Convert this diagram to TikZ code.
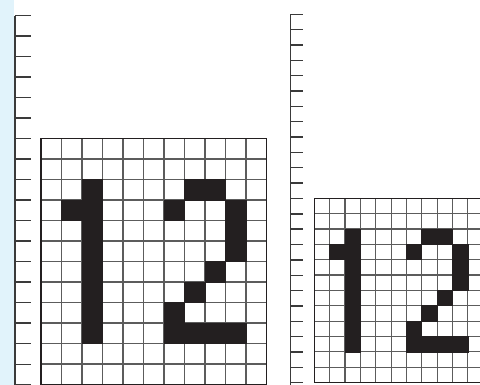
\documentclass[tikz,border=0pt]{standalone}
\definecolor{strip}{HTML}{E1F3FB}
\definecolor{ink}{HTML}{231F20}
\definecolor{gridc}{HTML}{5C5C5C}
\definecolor{rulec}{HTML}{3A3A3A}
\tikzset{
  gridline/.style={draw=gridc, line width=1.1pt},
  gridborder/.style={draw=ink, line width=1.4pt},
  rulerline/.style={draw=rulec, line width=1.4pt},
  rulertick/.style={draw=rulec, line width=1.4pt},
  cellfill/.style={fill=ink, draw=ink, line width=0.6pt}
}
\newcommand{\twelvegrid}{%
  \foreach \c in {1,...,10} {\draw[gridline] (\c,0) -- (\c,12);}
  \foreach \r in {1,...,11} {\draw[gridline] (0,\r) -- (11,\r);}
  \foreach \c/\r in {2/2,2/3,2/4,2/5,2/6,2/7,2/8,2/9,1/3,
                     7/2,8/2,6/3,9/3,9/4,9/5,8/6,7/7,6/8,6/9,7/9,8/9,9/9}
    {\filldraw[cellfill] (\c,\r) rectangle ++(1,1);}
  \draw[gridborder] (0,0) rectangle (11,12);
}
\begin{document}
\begin{tikzpicture}[x=1pt,y=-1pt]
\useasboundingbox (0,0) rectangle (480,385);
\fill[strip] (0,0) rectangle (14,385);
\begin{scope}
\clip (0,0) rectangle (480,385);
% left ruler
\draw[rulerline] (14.8,15.7) -- (14.8,386);
\foreach \k in {0,...,18} {\draw[rulertick] (14.8,{15.7+20.5*\k}) -- (30.5,{15.7+20.5*\k});}
% left grid
\begin{scope}[shift={(41,138.5)}, x=20.5pt, y=-20.5pt]
\twelvegrid
\end{scope}
% right ruler
\draw[rulerline] (290.7,14.3) -- (290.7,386);
\foreach \k in {0,...,24} {\draw[rulertick] (290.7,{14.3+15.35*\k}) -- (302.5,{14.3+15.35*\k});}
% right grid
\begin{scope}[shift={(314.3,198.3)}, x=15.35pt, y=-15.35pt]
\twelvegrid
\end{scope}
\end{scope}
\end{tikzpicture}
\end{document}
